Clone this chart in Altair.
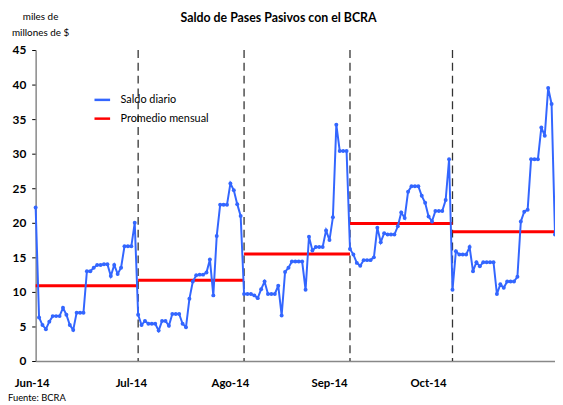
import altair as alt
import pandas as pd

# Daily balance (miles de millones de $), every calendar day Jun-Oct 2014
jun = [22.2, 6.3, 5.2, 4.6, 5.7, 6.5, 6.5, 6.5, 7.7, 6.7, 5.2, 4.5, 7.0, 7.0, 7.0,
       13.0, 13.0, 13.5, 13.9, 13.9, 14.0, 14.0, 12.3, 13.9, 12.6, 13.5, 16.6, 16.6, 16.6, 20.0]
jul = [6.7, 5.2, 5.8, 5.4, 5.4, 5.4, 4.4, 5.8, 5.8, 5.1, 6.8, 6.8, 6.8, 5.4, 4.9, 9.0,
       11.5, 12.4, 12.5, 12.5, 12.8, 14.7, 9.5, 18.1, 22.6, 22.6, 22.6, 25.7, 24.7, 22.7, 21.0]
aug = [9.7, 9.7, 9.7, 9.5, 9.1, 10.4, 11.5, 9.7, 9.7, 9.7, 10.9, 6.6, 12.9, 13.5, 14.4,
       14.4, 14.4, 14.4, 10.3, 18.0, 16.0, 16.5, 16.5, 16.5, 18.9, 17.5, 20.8, 34.2, 30.4, 30.4, 30.4]
sep = [16.2, 15.4, 14.2, 13.8, 14.6, 14.6, 14.6, 15.0, 19.3, 17.2, 18.5, 18.3, 18.3, 18.3,
       19.5, 21.5, 20.7, 24.5, 25.3, 25.3, 25.3, 23.9, 22.9, 20.9, 20.2, 21.7, 21.7, 21.7, 23.3, 29.2]
octb = [10.3, 15.9, 15.4, 15.4, 15.4, 16.5, 13.0, 14.3, 13.7, 14.3, 14.3, 14.3, 14.3, 9.7,
        11.1, 10.6, 11.5, 11.5, 11.5, 12.2, 20.2, 21.6, 21.9, 29.2, 29.2, 29.2, 33.8, 32.6, 39.5, 37.2, 18.3]

# Monthly averages
month_avg = [10.9, 11.7, 15.5, 19.9, 18.7]
month_starts = ["2014-06-01", "2014-07-01", "2014-08-01", "2014-09-01", "2014-10-01"]
month_ends = ["2014-07-01", "2014-08-01", "2014-09-01", "2014-10-01", "2014-10-31"]

# Month separators
sep_dates = ["2014-07-01", "2014-08-01", "2014-09-01", "2014-10-01"]

# X tick labels and where they sit
tick_labels = ["Jun-14", "Jul-14", "Ago-14", "Sep-14", "Oct-14"]
label_dates = ["2014-05-31", "2014-06-29", "2014-07-28", "2014-08-26", "2014-09-24"]

# Y ticks
y_ticks = [0, 5, 10, 15, 20, 25, 30, 35, 40, 45]

S1 = "Saldo diario"
S2 = "Promedio mensual"
BLUE = "#3366FF"
RED = "#FF0000"
FONT = "Lato"
W, H = 526, 315

daily = pd.DataFrame({
    "fecha": pd.date_range("2014-06-01", "2014-10-31", freq="D"),
    "valor": jun + jul + aug + sep + octb,
    "serie": S1,
})
avgs = pd.DataFrame({
    "ini": pd.to_datetime(month_starts),
    "fin": pd.to_datetime(month_ends),
    "valor": month_avg,
    "serie": S2,
})
seps = pd.DataFrame({"fecha": pd.to_datetime(sep_dates)})
labs = pd.DataFrame({"fecha": pd.to_datetime(label_dates), "txt": tick_labels})

xscale = alt.Scale(domain=[alt.DateTime(year=2014, month=6, date=1),
                           alt.DateTime(year=2014, month=10, date=31)], nice=False)
yscale = alt.Scale(domain=[0, 45], nice=False)
color = alt.Color("serie:N", scale=alt.Scale(domain=[S1, S2], range=[BLUE, RED]),
                  legend=alt.Legend(title=None, orient="none", legendX=58, legendY=41,
                                    symbolType="stroke", symbolStrokeWidth=2.5,
                                    symbolSize=250, labelFont=FONT, labelFontSize=11,
                                    labelColor="black", rowPadding=4, labelOffset=9))

xaxis = alt.Axis(title=None, labels=False, ticks=False, grid=False,
                 domainColor="#888888", domainWidth=1.5)
yaxis = alt.Axis(title=None, values=y_ticks, grid=False, labelOverlap=False,
                 labelFont=FONT, labelFontWeight="bold", labelFontSize=12,
                 labelColor="black", tickColor="black", tickSize=4,
                 labelPadding=6, domainColor="#888888", domainWidth=1.5)

sep_layer = alt.Chart(seps).mark_rule(color="#333333", strokeWidth=1.3,
                                      strokeDash=[8, 5]).encode(
    x=alt.X("fecha:T", scale=xscale, axis=xaxis))

line = alt.Chart(daily).mark_line(
    strokeWidth=2, point=alt.OverlayMarkDef(size=16, filled=True, color=BLUE)
).encode(
    x=alt.X("fecha:T", scale=xscale, axis=xaxis),
    y=alt.Y("valor:Q", scale=yscale, axis=yaxis),
    color=color,
)

avg_layer = alt.Chart(avgs).mark_rule(strokeWidth=3).encode(
    x=alt.X("ini:T", scale=xscale, axis=xaxis),
    x2="fin:T",
    y=alt.Y("valor:Q", scale=yscale, axis=yaxis),
    color=color,
)

xlabels = alt.Chart(labs).mark_text(font=FONT, fontWeight="bold", fontSize=11.5,
                                    baseline="middle", align="center", color="black").encode(
    x=alt.X("fecha:T", scale=xscale, axis=xaxis),
    y=alt.value(H + 23),
    text="txt:N",
)


def label(txt, x, y, size, weight="normal", align="center"):
    return alt.Chart(pd.DataFrame({"t": [txt]})).mark_text(
        font=FONT, fontSize=size, fontWeight=weight, align=align,
        baseline="middle", color="black").encode(
        text="t:N", x=alt.value(x), y=alt.value(y))


title = label("Saldo de Pases Pasivos con el BCRA", 246, -32, 12.5, "bold")
unit1 = label("miles de", 5, -33, 10)
unit2 = label("millones de $", 5, -17, 10)
fuente = label("Fuente: BCRA", -28, H + 37, 9.5, align="left")

chart = alt.layer(sep_layer, avg_layer, line, xlabels, title, unit1, unit2, fuente).properties(
    width=W, height=H,
    padding={"left": 28, "top": 40, "right": 0, "bottom": 44},
    autosize=alt.AutoSizeParams(type="none"),
    background="white",
).configure_view(stroke=None)

chart.save("out.html", embed_options={"renderer": "svg", "actions": False})
